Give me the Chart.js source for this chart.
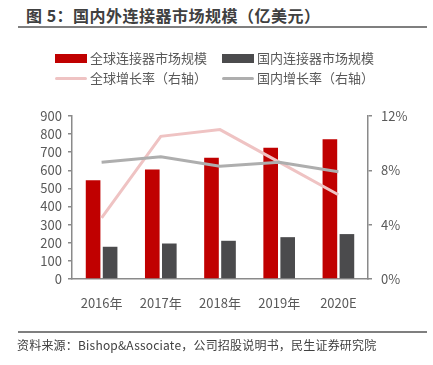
<!DOCTYPE html>
<html>
<head>
<meta charset="utf-8">
<script src="https://cdn.jsdelivr.net/npm/chart.js@4"></script>
<style>
  html, body { margin: 0; padding: 0; background: #fff; }
  body { width: 433px; height: 365px; position: relative; overflow: hidden;
         font-family: "Noto Sans CJK SC", "Noto Sans", sans-serif; }
  #title { position: absolute; left: 26px; top: 4px; font-size: 16px; font-weight: bold;
           color: #404040; line-height: 22px; white-space: nowrap; letter-spacing: 0.5px; }
  .rule { position: absolute; left: 18px; width: 409px; background: #7f7f7f; }
  #rule1 { top: 26px; height: 2px; }
  #rule2 { top: 331px; height: 2px; }
  #source { position: absolute; left: 17px; top: 336px; font-size: 12px; color: #404040;
            line-height: 18px; white-space: nowrap; letter-spacing: 0.2px; }
  .lg { position: absolute; font-size: 13px; color: #595959; line-height: 18px; white-space: nowrap; }
  .sw { position: absolute; }
  #wrap { position: absolute; left: 0; top: 0; width: 433px; height: 365px; }
</style>
</head>
<body>
<div id="title">图 5：国内外连接器市场规模（亿美元）</div>
<div class="rule" id="rule1"></div>
<div id="wrap"><canvas id="c" width="433" height="365"></canvas></div>
<div id="legend"></div>
<div class="rule" id="rule2"></div>
<div id="source">资料来源：Bishop&amp;Associate，公司招股说明书，民生证券研究院</div>
<script>
const categories = ['2016年', '2017年', '2018年', '2019年', '2020E'];
const globalMarket = [545, 604, 669, 725, 771];
const chinaMarket = [178, 196, 211, 231, 248];
const globalGrowth = [4.5, 10.5, 11.0, 8.6, 6.2];
const chinaGrowth = [8.6, 9.0, 8.3, 8.6, 7.9];
const leftTicks = [0, 100, 200, 300, 400, 500, 600, 700, 800, 900];
const rightTicks = [0, 4, 8, 12];

const seriesNames = ['全球连接器市场规模', '国内连接器市场规模', '全球增长率（右轴）', '国内增长率（右轴）'];
const colors = ['#C00000', '#4B4B4D', '#EFC3C3', '#AEAEAE'];

// HTML legend
const legendSpec = [
  { x: 55, y: 58, h: 9 },
  { x: 222, y: 58, h: 9 },
  { x: 55, y: 78, h: 3 },
  { x: 222, y: 78, h: 3 }
];
const lg = document.getElementById('legend');
seriesNames.forEach((name, i) => {
  const s = legendSpec[i];
  const sw = document.createElement('div');
  sw.className = 'sw';
  sw.style.left = s.x + 'px';
  sw.style.top = (s.y - s.h / 2) + 'px';
  sw.style.width = '32px';
  sw.style.height = s.h + 'px';
  sw.style.background = colors[i];
  if (s.h < 5) sw.style.borderRadius = '2px';
  lg.appendChild(sw);
  const t = document.createElement('div');
  t.className = 'lg';
  t.style.left = (s.x + 35) + 'px';
  t.style.top = (s.y - 9) + 'px';
  t.textContent = name;
  lg.appendChild(t);
});

const fontFam = '"Noto Sans CJK SC", "Noto Sans", sans-serif';
const axisColor = '#8a8a8a';
const tickColor = '#595959';

new Chart(document.getElementById('c'), {
  data: {
    labels: categories,
    datasets: [
      { type: 'line', label: seriesNames[3], data: chinaGrowth, yAxisID: 'y1',
        borderColor: colors[3], borderWidth: 3, pointRadius: 0, tension: 0, order: 0 },
      { type: 'line', label: seriesNames[2], data: globalGrowth, yAxisID: 'y1',
        borderColor: colors[2], borderWidth: 3, pointRadius: 0, tension: 0, order: 1 },
      { type: 'bar', label: seriesNames[0], data: globalMarket, yAxisID: 'y',
        backgroundColor: colors[0], barPercentage: 0.86, categoryPercentage: 0.575, order: 2 },
      { type: 'bar', label: seriesNames[1], data: chinaMarket, yAxisID: 'y',
        backgroundColor: colors[1], barPercentage: 0.86, categoryPercentage: 0.575, order: 2 }
    ]
  },
  options: {
    responsive: false,
    animation: false,
    devicePixelRatio: 1,
    layout: { padding: { top: 116, left: 0, right: 0, bottom: 0 } },
    plugins: { legend: { display: false }, tooltip: { enabled: false }, title: { display: false } },
    scales: {
      x: {
        position: 'bottom',
        grid: { display: false, drawTicks: false },
        border: { display: true, color: axisColor, width: 1.5 },
        ticks: { color: tickColor, font: { family: fontFam, size: 13 }, padding: 16, maxRotation: 0, autoSkip: false },
        afterFit: s => { s.height = 86; }
      },
      y: {
        position: 'left',
        min: 0, max: 900,
        afterBuildTicks: s => { s.ticks = leftTicks.map(v => ({ value: v })); },
        grid: { drawOnChartArea: false, drawTicks: true, tickLength: 4, color: axisColor, lineWidth: 1.5 },
        border: { display: true, color: axisColor, width: 1.5 },
        ticks: { color: tickColor, font: { family: fontFam, size: 13 }, padding: 6, autoSkip: false },
        afterFit: s => { s.width = 72; }
      },
      y1: {
        position: 'right',
        min: 0, max: 12,
        afterBuildTicks: s => { s.ticks = rightTicks.map(v => ({ value: v })); },
        grid: { drawOnChartArea: false, drawTicks: true, tickLength: 4, color: axisColor, lineWidth: 1.5 },
        border: { display: true, color: axisColor, width: 1.5 },
        ticks: { color: tickColor, font: { family: fontFam, size: 13 }, padding: 9, autoSkip: false,
                 callback: v => v + '%' },
        afterFit: s => { s.width = 65; }
      }
    }
  }
});
</script>
</body>
</html>
